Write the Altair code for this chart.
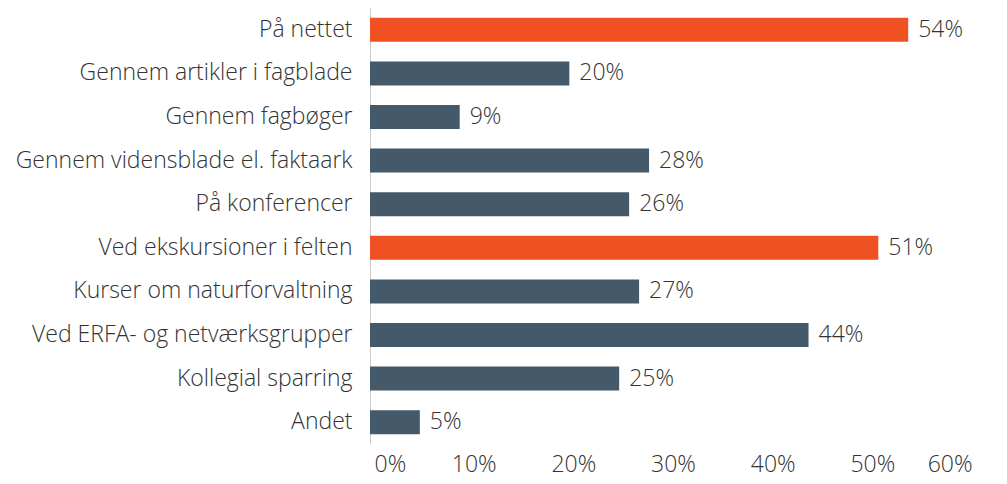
import altair as alt
import pandas as pd

categories = ["På nettet", "Gennem artikler i fagblade", "Gennem fagbøger",
              "Gennem vidensblade el. faktaark", "På konferencer",
              "Ved ekskursioner i felten", "Kurser om naturforvaltning",
              "Ved ERFA- og netværksgrupper", "Kollegial sparring", "Andet"]
values = [54, 20, 9, 28, 26, 51, 27, 44, 25, 5]
highlight = [True, False, False, False, False, True, False, False, False, False]

df = pd.DataFrame({"cat": categories, "val": [v / 100 for v in values],
                   "hl": ["yes" if h else "no" for h in highlight]})

FONT = "Open Sans"
FS = 23
FW = 300
TXT = "#333333"

y = alt.Y("cat:N", sort=categories, title=None,
          scale=alt.Scale(paddingInner=0.45, paddingOuter=0.225),
          axis=alt.Axis(labelFont=FONT, labelFontSize=FS, labelFontWeight=FW,
                        labelColor=TXT, ticks=False, labelPadding=18,
                        domainColor="#cccccc", domainWidth=1, labelLimit=400))
x = alt.X("val:Q", title=None,
          scale=alt.Scale(domain=[0, 0.6], nice=False),
          axis=alt.Axis(format="%", values=[0, 0.1, 0.2, 0.3, 0.4, 0.5, 0.6],
                        grid=False, ticks=False, domain=False,
                        labelFont=FONT, labelFontSize=FS, labelFontWeight=FW,
                        labelColor=TXT, labelPadding=9, labelOffset=4))

bars = alt.Chart(df).mark_bar().encode(
    x=x, y=y,
    color=alt.Color("hl:N", scale=alt.Scale(domain=["yes", "no"],
                                            range=["#F05123", "#44596A"]),
                    legend=None))

text = alt.Chart(df).mark_text(align="left", dx=10, font=FONT, fontSize=FS,
                               fontWeight=FW, color=TXT).encode(
    x="val:Q", y=alt.Y("cat:N", sort=categories),
    text=alt.Text("val:Q", format=".0%"))

chart = (bars + text).properties(
    width=598, height=436,
    autosize=alt.AutoSizeParams(type="none"),
    padding={"left": 362, "top": 0, "right": 29, "bottom": 40}
).configure_view(stroke=None)

chart.save("out.html", embed_options={"renderer": "svg", "actions": False})
